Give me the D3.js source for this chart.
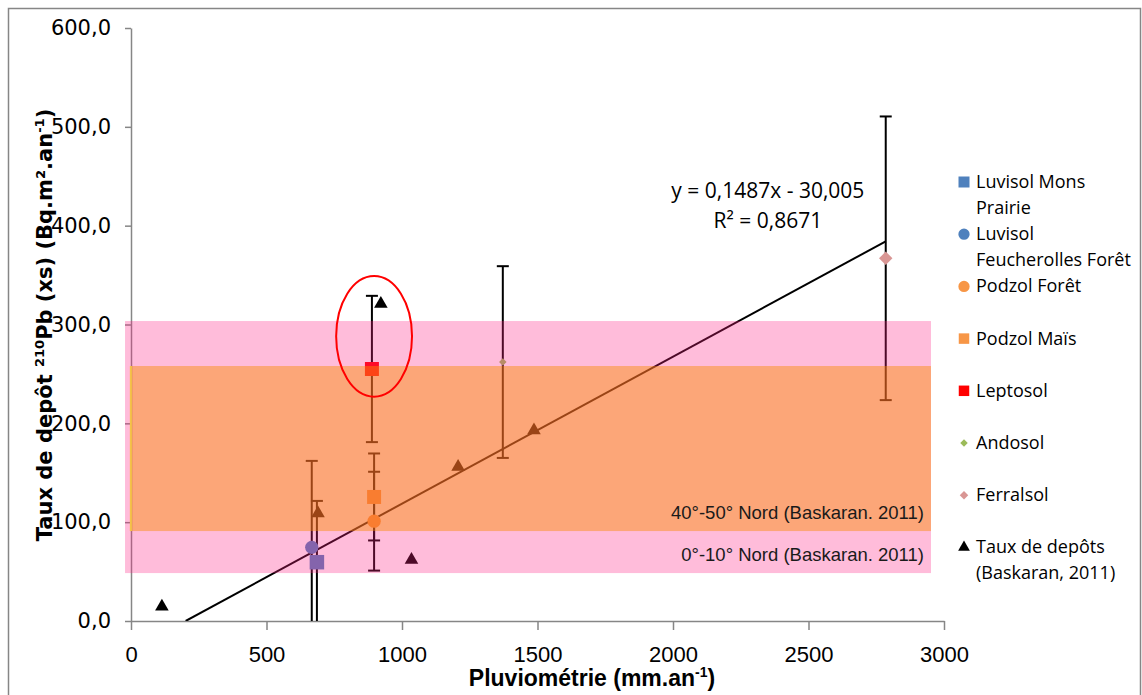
<!DOCTYPE html>
<html>
<head>
<meta charset="utf-8">
<script src="https://cdn.jsdelivr.net/npm/d3@7"></script>
<style>
  body { margin: 0; background: #fff; }
  svg { display: block; }
</style>
</head>
<body>
<svg id="chart" width="1142" height="695"></svg>
<script>
// Soil profiles: rainfall (mm/yr), 210Pb(xs) deposition rate and its uncertainty
const soilNames  = ["Luvisol Mons Prairie", "Luvisol Feucherolles Forêt", "Podzol Forêt", "Podzol Maïs", "Leptosol", "Andosol", "Ferralsol"];
const soilRain   = [686, 667, 897, 897, 889, 1372, 2785];
const soilRate   = [59.5, 74.5, 101, 125.5, 255, 262, 367];
const soilError  = [62, 87.5, 50, 44, 74, 97, 143.5];

// Literature deposition rates (Baskaran, 2011)
const baskaranRain = [114, 690, 922, 1035, 1207, 1487];
const baskaranRate = [14.5, 109, 321, 62, 156, 193];

// Latitude bands (Baskaran, 2011)
const bandLabels = ["0°-10° Nord (Baskaran. 2011)", "40°-50° Nord (Baskaran. 2011)"];
const bandLow    = [48.5, 91];
const bandHigh   = [303.5, 258];
const bandRainLow  = [-22, -4];
const bandRainHigh = [2952, 2952];

// Linear fit shown on the chart
const trendSlope = 0.1487;
const trendIntercept = -30.005;
const trendRainMax = 2785;
const trendR2 = "0,8671";

// Axis ticks
const yTicks = [0, 100, 200, 300, 400, 500, 600];
const xTicks = [0, 500, 1000, 1500, 2000, 2500, 3000];

// Legend text, one entry per series (wrapped lines)
const legendLines = [
  ["Luvisol Mons", "Prairie"],
  ["Luvisol", "Feucherolles Forêt"],
  ["Podzol Forêt"],
  ["Podzol Maïs"],
  ["Leptosol"],
  ["Andosol"],
  ["Ferralsol"],
  ["Taux de depôts", "(Baskaran, 2011)"]
];

// Marker styling per soil series
const soilStyle = [
  { shape: "square",  color: "#4F81BD", size: 210, legendSize: 121 },
  { shape: "circle",  color: "#4F81BD", size: 140, legendSize: 100 },
  { shape: "circle",  color: "#F79646", size: 140, legendSize: 100 },
  { shape: "square",  color: "#F79646", size: 196, legendSize: 110 },
  { shape: "square",  color: "#FF0000", size: 196, legendSize: 110 },
  { shape: "diamond", color: "#9BBB59", size: 28,  legendSize: 28 },
  { shape: "diamond", color: "#D99694", size: 90,  legendSize: 36 }
];

const svg = d3.select("#chart");
const plot = { left: 131, right: 944, top: 28, bottom: 621 };

const x = d3.scaleLinear().domain([0, 3000]).range([plot.left, plot.right]);
const y = d3.scaleLinear().domain([0, 600]).range([plot.bottom, plot.top]);

const axisColor = "#868686";
const calibri = "'Open Sans', 'Noto Sans', sans-serif";

// Outer chart frame
svg.append("rect")
  .attr("x", 8.5).attr("y", 8.5)
  .attr("width", 1132).attr("height", 720)
  .attr("fill", "none").attr("stroke", axisColor).attr("stroke-width", 1.5);

function symbolPath(shape, size) {
  if (shape === "square") return d3.symbol(d3.symbolSquare, size)();
  if (shape === "circle") return d3.symbol(d3.symbolCircle, size)();
  if (shape === "triangle") return d3.symbol(d3.symbolTriangle, size)();
  return d3.symbol(d3.symbolSquare, size)();
}
function symbolRotation(shape) { return shape === "diamond" ? 45 : 0; }

const fmt = d => d3.format(".1f")(d).replace(".", ",");

// Axes
const yAxis = svg.append("g")
  .attr("transform", `translate(${plot.left},0)`)
  .call(d3.axisLeft(y).tickValues(yTicks).tickFormat(fmt).tickSize(6).tickSizeOuter(0).tickPadding(14));
const xAxis = svg.append("g")
  .attr("transform", `translate(0,${plot.bottom})`)
  .call(d3.axisBottom(x).tickValues(xTicks).tickFormat(d3.format("d")).tickSize(9).tickSizeOuter(0).tickPadding(16));

[yAxis, xAxis].forEach(g => {
  g.select(".domain").attr("stroke", axisColor).attr("stroke-width", 1.5);
  g.selectAll(".tick line").attr("stroke", axisColor).attr("stroke-width", 1.5);
});
yAxis.selectAll(".tick text")
  .attr("font-family", "'DejaVu Sans', sans-serif").attr("font-size", 21).attr("fill", "#000");
xAxis.selectAll(".tick text")
  .attr("font-family", "'Liberation Sans Narrow', 'Liberation Sans', sans-serif")
  .attr("font-size", 22).attr("fill", "#000");

// Axis titles
const xTitle = svg.append("text")
  .attr("x", 592).attr("y", 686)
  .attr("text-anchor", "middle")
  .attr("font-family", "'Liberation Sans Narrow', 'Liberation Sans', sans-serif")
  .attr("font-weight", "bold").attr("font-size", 23).attr("fill", "#000");
xTitle.append("tspan").text("Pluviométrie (mm.an");
xTitle.append("tspan").attr("font-size", 14).attr("dy", -9).text("-1");
xTitle.append("tspan").attr("dy", 9).text(")");

const yTitle = svg.append("text")
  .attr("transform", "translate(52,325) rotate(-90)")
  .attr("text-anchor", "middle")
  .attr("font-family", "'DejaVu Sans', sans-serif")
  .attr("font-weight", "bold").attr("font-size", 21).attr("fill", "#000");
yTitle.append("tspan").text("Taux de depôt ");
yTitle.append("tspan").attr("font-size", 13).attr("dy", -8).text("210");
yTitle.append("tspan").attr("dy", 8).text("Pb (xs) (Bq.m².an");
yTitle.append("tspan").attr("font-size", 13).attr("dy", -8).text("-1");
yTitle.append("tspan").attr("dy", 8).text(")");

// Plot clipping
svg.append("clipPath").attr("id", "plot-clip")
  .append("rect")
  .attr("x", plot.left).attr("y", plot.top)
  .attr("width", plot.right - plot.left).attr("height", plot.bottom - plot.top);

const data = svg.append("g").attr("clip-path", "url(#plot-clip)");

// Trend line
data.append("line")
  .attr("x1", x(-trendIntercept / trendSlope)).attr("y1", y(0))
  .attr("x2", x(trendRainMax)).attr("y2", y(trendSlope * trendRainMax + trendIntercept))
  .attr("stroke", "#000").attr("stroke-width", 2);

// Error bars
const capHalf = 6;
soilNames.forEach((name, i) => {
  const cx = x(soilRain[i]);
  const hi = soilRate[i] + soilError[i];
  const lo = soilRate[i] - soilError[i];
  const g = data.append("g").attr("stroke", "#000").attr("stroke-width", 2);
  g.append("line").attr("x1", cx).attr("x2", cx).attr("y1", y(hi)).attr("y2", y(lo));
  g.append("line").attr("x1", cx - capHalf).attr("x2", cx + capHalf).attr("y1", y(hi)).attr("y2", y(hi));
  g.append("line").attr("x1", cx - capHalf).attr("x2", cx + capHalf).attr("y1", y(lo)).attr("y2", y(lo));
});

// Soil markers
soilNames.forEach((name, i) => {
  const st = soilStyle[i];
  data.append("path")
    .attr("d", symbolPath(st.shape, st.size))
    .attr("transform", `translate(${x(soilRain[i])},${y(soilRate[i])}) rotate(${symbolRotation(st.shape)})`)
    .attr("fill", st.color);
});

// Baskaran markers
baskaranRain.forEach((r, i) => {
  data.append("path")
    .attr("d", d3.symbol(d3.symbolTriangle, 80)())
    .attr("transform", `translate(${x(r)},${y(baskaranRate[i])})`)
    .attr("fill", "#000");
});

// Translucent latitude bands laid over the data
const bandFill = ["rgb(255,32,132)", "rgb(248,139,0)"];
const bandOpacity = [0.3, 0.45];
bandLabels.forEach((lab, i) => {
  svg.append("rect")
    .attr("x", x(bandRainLow[i])).attr("width", x(bandRainHigh[i]) - x(bandRainLow[i]))
    .attr("y", y(bandHigh[i])).attr("height", y(bandLow[i]) - y(bandHigh[i]))
    .attr("fill", bandFill[i]).attr("fill-opacity", bandOpacity[i]);
});
svg.append("line")
  .attr("x1", x(bandRainLow[1]) + 1).attr("x2", x(bandRainLow[1]) + 1)
  .attr("y1", y(bandHigh[1])).attr("y2", y(bandLow[1]))
  .attr("stroke", "#F5C24A").attr("stroke-width", 2);

bandLabels.forEach((lab, i) => {
  svg.append("text")
    .attr("x", x(bandRainHigh[i]) - 7)
    .attr("y", y(bandLow[i]) - 12)
    .attr("text-anchor", "end")
    .attr("font-family", "'Liberation Sans', Arial, sans-serif")
    .attr("font-size", 18.5).attr("fill", "#1a1a1a")
    .text(lab);
});

// Highlight around the Leptosol point
svg.append("ellipse")
  .attr("cx", x(897)).attr("cy", y(288))
  .attr("rx", x(140) - x(0)).attr("ry", y(0) - y(61))
  .attr("fill", "none").attr("stroke", "#FF0000").attr("stroke-width", 2);

// Fit equation
const eq = svg.append("g").attr("font-family", calibri).attr("font-size", 21).attr("fill", "#000").attr("text-anchor", "middle");
eq.append("text").attr("x", x(2350)).attr("y", y(428))
  .text(`y = ${String(trendSlope).replace(".", ",")}x - ${trendIntercept.toFixed(3).replace("-", "").replace(".", ",")}`);
eq.append("text").attr("x", x(2350)).attr("y", y(398)).text(`R² = ${trendR2}`);

// Legend
const legend = svg.append("g").attr("font-family", calibri).attr("font-size", 18).attr("fill", "#000");
const legendStyles = soilStyle.concat([{ shape: "triangle", color: "#000", legendSize: 60 }]);
legendLines.forEach((lines, i) => {
  const cy = 182 + i * 52.2;
  const st = legendStyles[i];
  legend.append("path")
    .attr("d", symbolPath(st.shape, st.legendSize))
    .attr("transform", `translate(964,${cy}) rotate(${symbolRotation(st.shape)})`)
    .attr("fill", st.color);
  lines.forEach((ln, j) => {
    legend.append("text").attr("x", 976).attr("y", cy + 6 + j * 25.6).text(ln);
  });
});
</script>
</body>
</html>
